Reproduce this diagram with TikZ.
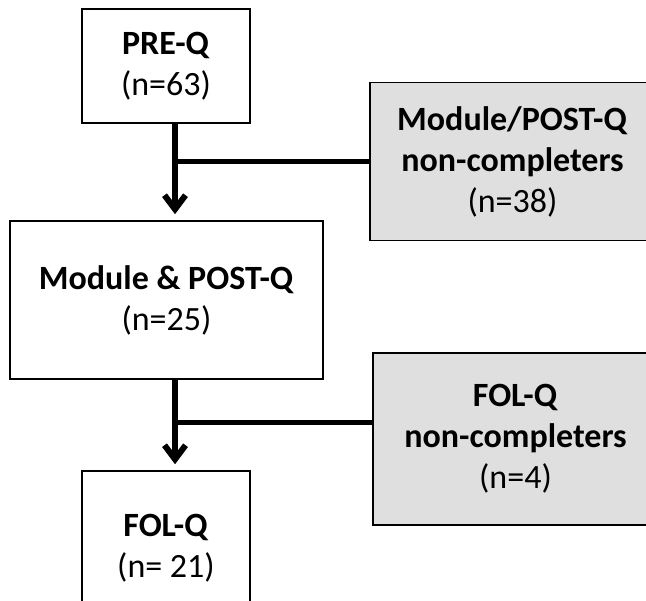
\documentclass[tikz,border=0pt]{standalone}
\usepackage{fontspec}
\setmainfont{Carlito}
\usetikzlibrary{arrows.meta}

\tikzset{
  stage/.style={draw=black, line width=1.5pt, fill=white, inner sep=0pt,
    align=center, font=\fontsize{34}{41}\selectfont},
  dropout/.style={stage, fill=gray!25},
  flow/.style={line width=6pt, -{Straight Barb[length=14pt,width=21pt]}, shorten >=6pt},
  branch/.style={line width=5pt}
}

\begin{document}
\begin{tikzpicture}[x=1pt,y=-1pt]
  \useasboundingbox (0,0) rectangle (646,601);

  % main sequence of questionnaires
  \node[stage, minimum width=168pt, minimum height=114pt] (pre) at (166,66)
    {\textbf{PRE-Q}\\(n=63)};
  \node[stage, minimum width=313pt, minimum height=158pt] (mod) at (166.5,300)
    {\textbf{Module \& POST-Q}\\(n=25)};
  \node[stage, minimum width=168pt, minimum height=154pt] (fol) at (166,548)
    {\textbf{FOL-Q}\\(n= 21)};

  % participants lost at each step
  \node[dropout, minimum width=285pt, minimum height=158pt] (lost1) at (512.5,161.5)
    {\textbf{Module/POST-Q}\\\textbf{non-completers}\\(n=38)};
  \node[dropout, minimum width=285pt, minimum height=172pt] (lost2) at (515.5,439)
    {\textbf{FOL-Q}\\\textbf{non-completers}\\(n=4)};

  % junctions on the main flow line
  \coordinate (j1) at (175,161.7);
  \coordinate (j2) at (175,422.7);

  % arrows between stages
  \draw[flow] (pre.south -| j1) -- (mod.north -| j1);
  \draw[flow] (mod.south -| j2) -- (fol.north -| j2);

  % side branches
  \draw[branch] (j1) -- (j1 -| lost1.west);
  \draw[branch] (j2) -- (j2 -| lost2.west);
\end{tikzpicture}
\end{document}
